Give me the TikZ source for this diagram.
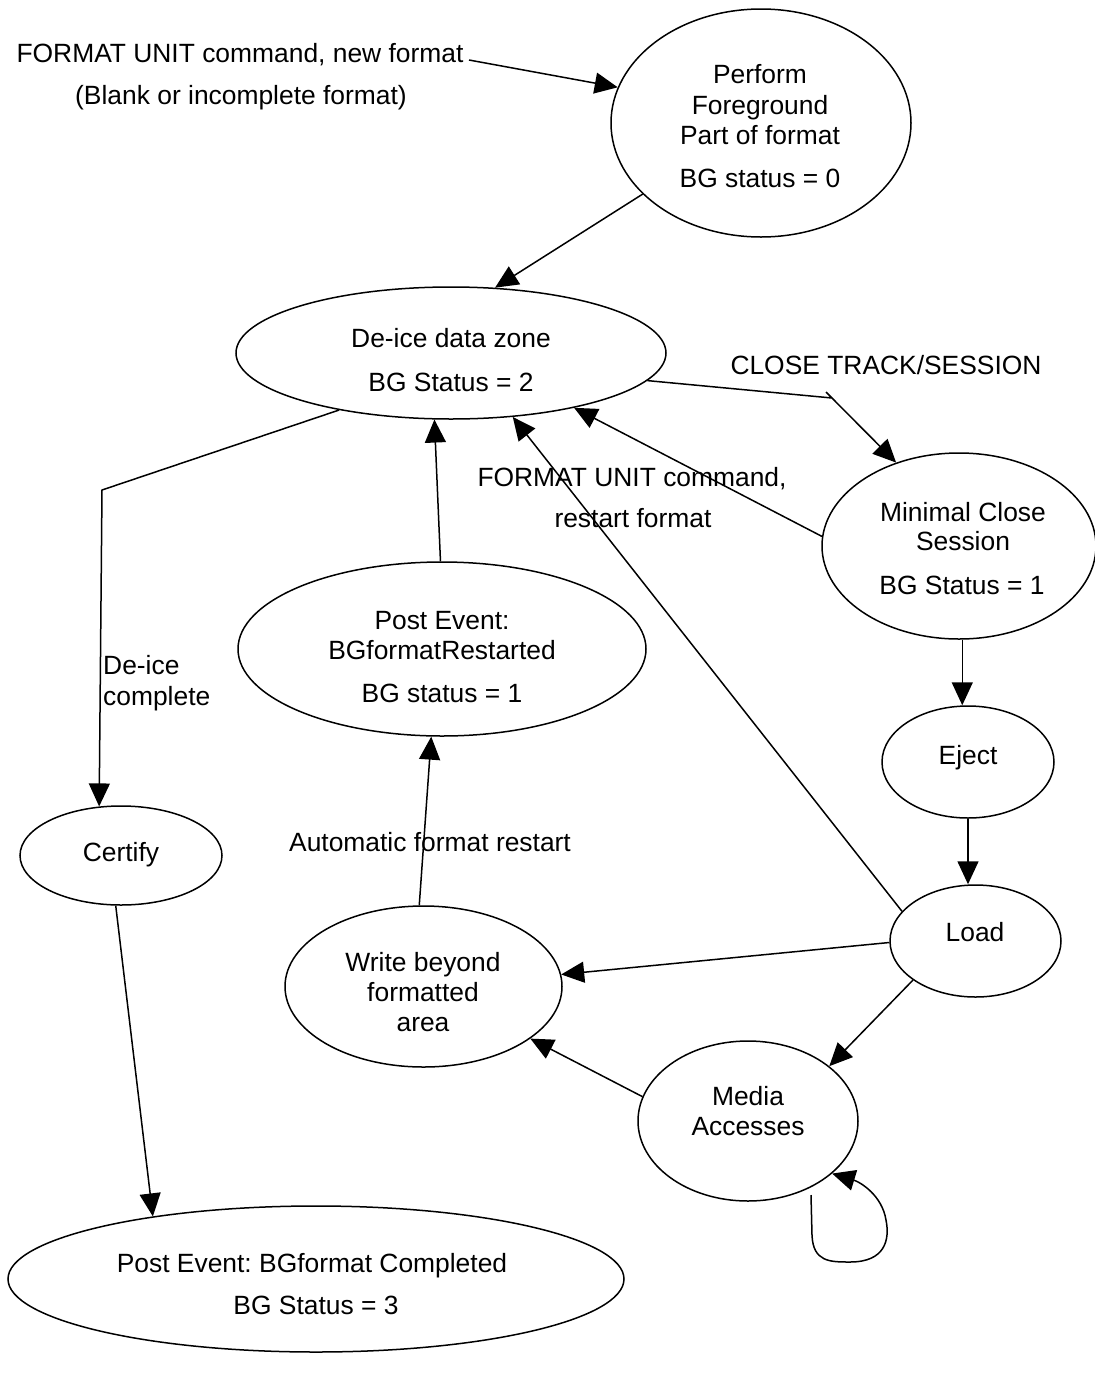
\documentclass[tikz,border=0pt]{standalone}
\usepackage{fontspec}
\setmainfont{Liberation Sans}
\usetikzlibrary{arrows.meta,shapes.geometric}
\frenchspacing
\begin{document}
\begin{tikzpicture}[x=1pt,y=-1pt,
  st/.style={draw,ellipse,line width=1.5pt,inner sep=0pt},
  txt/.style={inner sep=0pt,text height=19pt,text depth=0pt,font=\fontsize{26.4pt}{30pt}\selectfont},
  arr/.style={line width=1.5pt,-{Triangle[length=23pt,width=21pt]}}]
\useasboundingbox (0,0) rectangle (1095,1377);
% states
\node[st,minimum width=300pt,minimum height=228pt] (perform) at (761,123) {};
\node[st,minimum width=430pt,minimum height=132pt] (deice) at (451,353) {};
\node[st,minimum width=274pt,minimum height=186pt] (minimal) at (959,546) {};
\node[st,minimum width=408pt,minimum height=174pt] (restart) at (442,649) {};
\node[st,minimum width=172pt,minimum height=112pt] (eject) at (968,762) {};
\node[st,minimum width=202pt,minimum height=99pt] (certify) at (121,855.5) {};
\node[st,minimum width=171pt,minimum height=112pt] (load) at (975.5,941) {};
\node[st,minimum width=277pt,minimum height=161pt] (write) at (423.5,986.5) {};
\node[st,minimum width=220pt,minimum height=160pt] (media) at (748,1121) {};
\node[st,minimum width=616pt,minimum height=146pt] (done) at (316,1279) {};
% state texts
\node[txt] (tp1) at (760,74) {Perform};
\node[txt] (tp2) at (760,105) {Foreground};
\node[txt] (tp3) at (760,135) {Part of format};
\node[txt] (tp4) at (760,178) {BG status = 0};
\node[txt] (td1) at (451,338) {De-ice data zone};
\node[txt] (td2) at (451,382) {BG Status = 2};
\node[txt] (tm1) at (963,512) {Minimal Close};
\node[txt] (tm2) at (963,541) {Session};
\node[txt] (tm3) at (962,585) {BG Status = 1};
\node[txt] (tr1) at (442,620) {Post Event:};
\node[txt] (tr2) at (442,650) {BGformatRestarted};
\node[txt] (tr3) at (442,693) {BG status = 1};
\node[txt] (te1) at (968,755) {Eject};
\node[txt] (tc1) at (121,852) {Certify};
\node[txt] (tl1) at (975,932) {Load};
\node[txt] (tw1) at (423,962) {Write beyond};
\node[txt] (tw2) at (423,992) {formatted};
\node[txt] (tw3) at (423,1022) {area};
\node[txt] (ta1) at (748,1096) {Media};
\node[txt] (ta2) at (748,1126) {Accesses};
\node[txt] (tf1) at (312,1263) {Post Event: BGformat Completed};
\node[txt] (tf2) at (316,1305) {BG Status = 3};
% transition labels
\node[txt] (lb1) at (240,53) {FORMAT UNIT command, new format};
\node[txt] (lb2) at (241,95) {(Blank or incomplete format)};
\node[txt] (lb3) at (886,365) {CLOSE TRACK/SESSION};
\node[txt] (lb4) at (632,477) {FORMAT UNIT command,};
\node[txt] (lb5) at (633,518) {restart format};
\node[txt,anchor=west] (lb6) at (103,665) {De-ice};
\node[txt,anchor=west] (lb7) at (103,696) {complete};
\node[txt] (lb8) at (430,842) {Automatic format restart};
% connectors
\coordinate (s1) at (469,60);
\coordinate (b1) at (832,398);
\coordinate (b2) at (826,392);
\coordinate (b3) at (102,490);
\coordinate (ls) at (811,1195);
\draw[arr] (s1) -- (perform.166.7);
\draw[arr] (perform.211.7) -- (deice.56.3);
\draw[arr] (deice.-8.1) -- (b1) (b2) -- (minimal.127.3);
\draw[arr] (minimal.176.2) -- (deice.-24.3);
\draw[arr] (load.158.2) -- (deice.-46.3);
\draw[arr] (restart.91) -- (deice.-104.2);
\draw[arr] (deice.-153.2) -- (b3) -- (certify.114.5);
\draw[arr] (write.93.8) -- (restart.-97.8);
\draw[arr] (minimal.-88) -- (minimal.-88 |- eject.north);
\draw[arr] (eject.south) -- (eject.south |- load.north);
\draw[arr] (load.181.3) -- (write.5.6);
\draw[arr] (load.212) -- (media.34.1);
\draw[arr] (media.167.1) -- (write.-26.5);
\draw[arr] (certify.-96.9) -- (done.159.2);
\draw[arr] (ls) -- (812,1235) .. controls (813,1262) and (830,1262) .. (850,1262)
  .. controls (885,1262) and (890,1240) .. (886,1220)
  .. controls (882,1195) and (860,1182) .. (media.-32.4);
\end{tikzpicture}
\end{document}
